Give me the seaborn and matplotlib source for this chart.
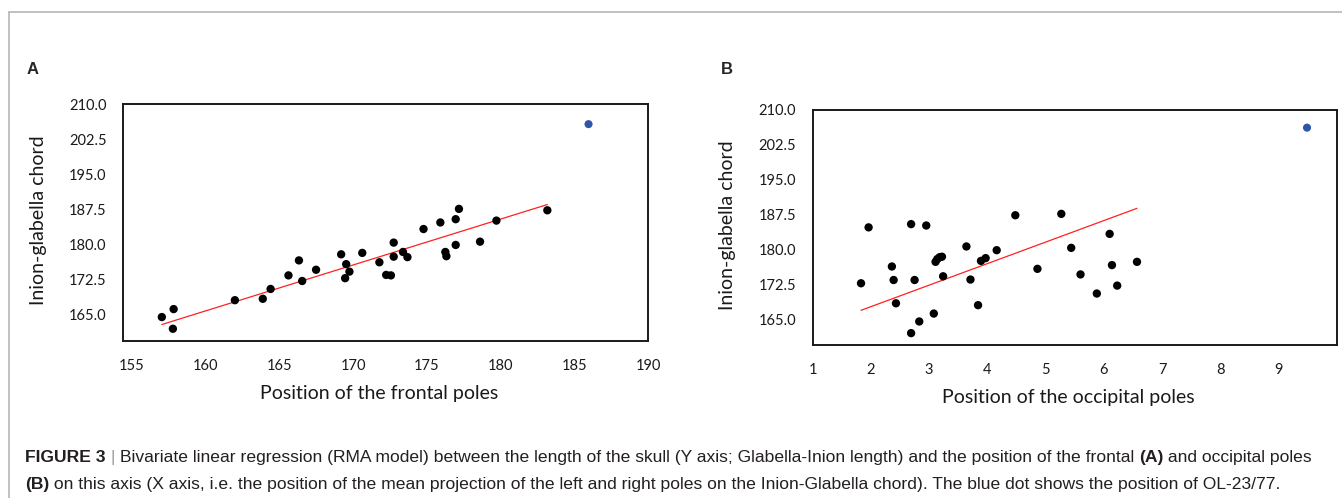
import numpy as np
import pandas as pd
import seaborn as sns
import matplotlib.pyplot as plt
from matplotlib.lines import Line2D

# panel A: position of the frontal poles vs inion-glabella chord
frontal_x = [157.04, 157.84, 157.79, 161.99, 163.88, 164.41, 165.62, 166.33,
             166.55, 167.49, 169.19, 169.53, 169.46, 169.75, 170.62, 171.78,
             172.24, 172.56, 172.75, 172.75, 173.38, 173.68, 174.77, 175.91,
             176.25, 176.32, 176.95, 177.17, 176.95, 178.60, 179.71, 183.16]
frontal_y = [164.5, 166.2, 162.0, 168.1, 168.4, 170.5, 173.4, 176.6,
             172.2, 174.6, 177.9, 175.8, 172.8, 174.2, 178.2, 176.2,
             173.5, 173.4, 180.4, 177.4, 178.4, 177.3, 183.3, 184.7,
             178.4, 177.5, 185.4, 187.6, 179.9, 180.6, 185.1, 187.3]

# panel B: position of the occipital poles vs inion-glabella chord
occipital_x = [1.83, 1.96, 2.36, 2.39, 2.43, 2.69, 2.69, 2.75,
               2.83, 2.95, 3.08, 3.11, 3.14, 3.18, 3.22, 3.24,
               3.64, 3.71, 3.84, 3.89, 3.97, 4.16, 4.48, 4.86,
               5.27, 5.44, 5.60, 5.88, 6.10, 6.14, 6.23, 6.57]
occipital_y = [172.7, 184.7, 176.3, 173.4, 168.4, 185.4, 162.0, 173.4,
               164.5, 185.1, 166.2, 177.3, 177.9, 178.3, 178.4, 174.2,
               180.6, 173.5, 168.0, 177.5, 178.1, 179.8, 187.3, 175.8,
               187.6, 180.3, 174.6, 170.5, 183.3, 176.6, 172.2, 177.3]

# OL-23/77 (blue dot)
ol_frontal = ([185.95], [205.7])
ol_occipital = ([9.49], [206.1])

y_ticks = [165.0, 172.5, 180.0, 187.5, 195.0, 202.5, 210.0]
frontal_ticks = [155, 160, 165, 170, 175, 180, 185, 190]
occipital_ticks = [1, 2, 3, 4, 5, 6, 7, 8, 9]

caption_1 = [("FIGURE 3", "bold", "#231f20"), (" | ", "normal", "#9a9a9a"),
             ("Bivariate linear regression (RMA model) between the length of the skull "
              "(Y axis; Glabella-Inion length) and the position of the frontal ", "normal", "#231f20"),
             ("(A)", "bold", "#231f20"), (" and occipital poles", "normal", "#231f20")]
caption_2 = [("(B)", "bold", "#231f20"),
             (" on this axis (X axis, i.e. the position of the mean projection of the left and "
              "right poles on the Inion-Glabella chord). The blue dot shows the position of OL-23/77.",
              "normal", "#231f20")]


def rma_line(x, y):
    # reduced major axis fit, drawn over the range of the data
    x = np.asarray(x)
    y = np.asarray(y)
    r = np.corrcoef(x, y)[0, 1]
    slope = np.sign(r) * y.std(ddof=1) / x.std(ddof=1)
    icpt = y.mean() - slope * x.mean()
    xs = np.array([x.min(), x.max()])
    return pd.DataFrame({"x": xs, "y": icpt + slope * xs})


def panel(ax, x, y, ol, xlim, xticks, xlabel):
    df = pd.DataFrame({"x": x, "y": y})
    sns.lineplot(data=rma_line(x, y), x="x", y="y", ax=ax, color="#ff2020", lw=0.9)
    sns.scatterplot(data=df, x="x", y="y", ax=ax, color="black", s=36,
                    edgecolor="none", zorder=3)
    sns.scatterplot(x=ol[0], y=ol[1], ax=ax, color="#2f56a6", s=34,
                    edgecolor="none", zorder=3)
    ax.set_xlim(*xlim)
    ax.set_ylim(159.45, 210)
    ax.set_xticks(xticks)
    ax.set_yticks(y_ticks)
    ax.set_yticklabels([f"{v:.1f}" for v in y_ticks])
    ax.tick_params(axis="both", direction="out", length=4, width=1,
                   colors="#1a1a1a", labelsize=10.5, labelcolor="#1a1a1a")
    ax.tick_params(axis="y", pad=8)
    ax.tick_params(axis="x", pad=9)
    for sp in ax.spines.values():
        sp.set_visible(True)
        sp.set_color("#1a1a1a")
        sp.set_linewidth(1.4)
    ax.set_xlabel(xlabel, fontsize=14, color="#1a1a1a")
    ax.set_ylabel("Inion-glabella chord", fontsize=14, color="#1a1a1a")
    ax.xaxis.set_label_coords(0.488, -0.221)
    ax.yaxis.set_label_coords(-0.162, 0.51)
    ax.xaxis.label.set_va("center")
    ax.yaxis.label.set_va("center")


def write_line(fig, parts, x0, y, size):
    renderer = fig.canvas.get_renderer()
    x = x0
    for s, weight, col in parts:
        t = fig.text(x, y, s, fontsize=size, fontweight=weight, color=col,
                     va="center", ha="left",
                     family=["Liberation Sans", "DejaVu Sans"])
        bb = t.get_window_extent(renderer)
        x += bb.width / fig.bbox.width


sns.set_theme(style="white")
plt.rcParams["font.family"] = ["Lato", "DejaVu Sans"]

fig = plt.figure(figsize=(13.42, 4.98), dpi=100)
fig.patch.set_facecolor("white")

ax1 = fig.add_axes([0.09188, 0.31586, 0.39121, 0.47530])
ax2 = fig.add_axes([0.60559, 0.30723, 0.39046, 0.47289])

panel(ax1, frontal_x, frontal_y, ol_frontal, (154.43, 190), frontal_ticks,
      "Position of the frontal poles")
panel(ax2, occipital_x, occipital_y, ol_occipital, (1, 10), occipital_ticks,
      "Position of the occipital poles")

# panel letters
fig.text(33 / 1342, 1 - 69 / 498, "A", fontsize=12, fontweight="bold",
         ha="center", va="center", family=["Liberation Sans", "DejaVu Sans"])
fig.text(727 / 1342, 1 - 70 / 498, "B", fontsize=12, fontweight="bold",
         ha="center", va="center", family=["Liberation Sans", "DejaVu Sans"])

# grey frame round the figure (top and left)
frame_top = 1 - 12.3 / 498
frame_left = 9.3 / 1342
fig.add_artist(Line2D([frame_left, 1], [frame_top, frame_top], color="#b0b0b0", lw=1.1))
fig.add_artist(Line2D([frame_left, frame_left], [0, frame_top], color="#b0b0b0", lw=1.1))

write_line(fig, caption_1, 25 / 1342, 1 - 457 / 498, 12.6)
write_line(fig, caption_2, 25 / 1342, 1 - 484 / 498, 12.6)

fig.savefig("out.png", dpi=100)
